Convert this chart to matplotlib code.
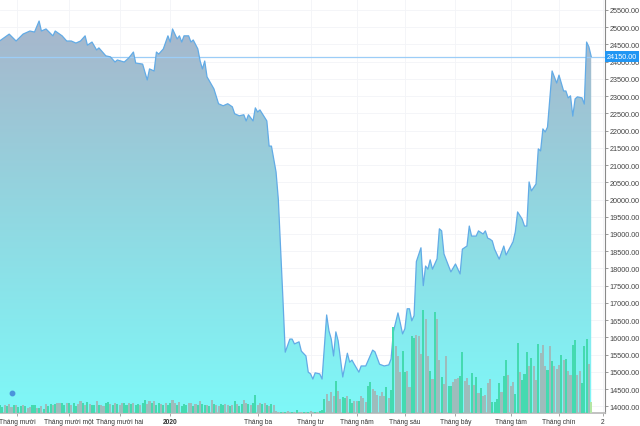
import numpy as np
import matplotlib
matplotlib.use("Agg")
import matplotlib.pyplot as plt
from matplotlib.patches import Polygon
from matplotlib.colors import LinearSegmentedColormap

# ---------------- data ----------------
price_session = [0, 4, 7, 10, 13, 15, 17, 18, 20, 23, 24, 27, 29, 31, 33, 35, 37, 38, 40, 42, 43, 46, 48, 50, 51,
                 54, 56, 58, 59, 62, 64, 65, 67, 68, 69, 71, 73, 74, 75, 77, 78, 79, 80, 82, 83, 84, 86, 87, 88,
                 89, 90, 93, 95, 97, 99, 101, 102, 104, 106, 107, 108, 110, 111, 112, 113, 116, 117, 118, 120,
                 121, 123, 124, 126, 127, 128, 130, 131, 133, 134, 135, 136, 137, 139, 140, 142, 143, 144, 145,
                 146, 147, 149, 151, 152, 153, 154, 156, 157, 159, 162, 163, 165, 167, 169, 170, 171, 173, 174,
                 175, 176, 177, 178, 179, 180, 181, 183, 184, 185, 186, 187, 188, 190, 191, 192, 193, 196, 198,
                 200, 201, 203, 204, 205, 207, 208, 210, 211, 212, 213, 214, 215, 217, 219, 220, 223, 224, 225,
                 227, 228, 229, 230, 231, 233, 234, 235, 236, 237, 238, 240, 242, 243, 245, 246, 247, 248, 249,
                 250, 251, 253, 254, 255, 256, 257]
price_value = [24610, 24800, 24600, 24800, 24890, 24860, 25180, 24890, 24950, 24750, 24890, 24750, 24600, 24600,
               24540, 24600, 24750, 24480, 24570, 24340, 24400, 24170, 24140, 23990, 24050, 23990, 24110, 24280,
               23960, 23930, 23470, 23790, 23730, 24280, 24220, 24370, 24750, 24570, 24950, 24660, 24750, 24570,
               24750, 24750, 24570, 24630, 24370, 24020, 23790, 24020, 23560, 23210, 22780, 22720, 22780, 22690,
               22490, 22430, 22460, 22280, 22460, 22280, 22660, 22540, 22600, 22280, 21550, 21550, 20800, 20000,
               17100, 15570, 15950, 15950, 15810, 15870, 15600, 15460, 14990, 14940, 14790, 14970, 14940, 14790,
               16650, 16190, 15950, 15460, 16160, 15900, 14850, 15540, 15280, 15340, 15220, 14990, 15170, 15170,
               15630, 15580, 15220, 15170, 15200, 15370, 16160, 16710, 16420, 16100, 16250, 16830, 16830, 16480,
               16630, 18200, 18600, 17500, 18070, 17980, 18250, 17980, 18280, 19150, 19090, 18420, 17900, 18130,
               17840, 18560, 18650, 19230, 18940, 18940, 19090, 19000, 19090, 18880, 18850, 18800, 18560, 18270,
               18650, 18390, 18770, 19060, 19640, 19430, 19230, 19230, 20510, 20250, 20450, 21470, 21410, 22050,
               21960, 22100, 23730, 23380, 23610, 23150, 23150, 22950, 23010, 22420, 22920, 22980, 22950, 22770,
               24570, 24430, 24150]

# daily volume (thousand shares), one per session 0..257
volume = [77, 60, 83, 67, 93, 60, 77, 77, 60, 67, 77, 67, 50, 60, 77, 83, 53, 53, 70, 43,
          88, 72, 95,
          77, 93, 103, 100, 103, 83, 103, 100, 77, 100,
          70, 93, 117, 103, 77, 110, 93, 77, 83, 117,
          77, 83, 70, 100, 110, 93,
          80, 105, 90,
          77, 100, 103, 77,
          103, 93, 100, 77, 87, 77, 103, 127, 93, 117,
          103, 120, 83, 103,
          93, 77, 103, 77, 100, 133, 103, 77, 110, 70,
          93, 77, 103, 103, 70, 93, 77, 117, 93, 77,
          83, 70, 133, 93, 77, 70, 93, 83, 93, 77,
          70, 77, 120, 93, 70, 93, 133, 103,
          90, 80, 100, 177, 77, 103, 93, 103, 77, 70, 93, 83,
          20, 10, 15, 10, 10, 20, 10, 15, 10, 30, 10, 10, 15, 10, 10, 20, 10, 15, 10, 20, 30,
          140, 190, 120, 210, 170, 320, 220, 140, 160, 150, 170, 140, 100, 120, 120, 120, 170, 150, 110, 270,
          310, 240, 220, 180, 170, 210, 170, 260, 150, 230, 860, 670, 570, 410, 620, 410, 420, 260, 770, 750,
          780, 770, 590, 1030, 940, 570, 420, 340,
          1010, 940, 530, 360, 290, 570, 270, 270, 310, 340, 350, 370, 610, 320, 350, 280, 400, 280, 360, 200,
          250, 170, 180, 300, 340, 110, 110, 140, 300, 210, 370, 530, 380, 270, 310, 190, 700, 410, 330, 390,
          610, 470, 550, 470, 330, 690, 600, 680, 470, 430, 670, 520, 470, 440, 480, 580, 530, 540, 420, 380,
          680, 730,
          380, 420, 300, 670, 740, 490, 110]
# g = up day, r = down day, l = current session
volume_dir = ("ggrgrrgrggrgrrggrgrg" "rggrgrrggr" "grggrrgrgr" "ggrgrrggrg" "rgrrggrgrg" "grggrrgrgg"
              "rgrggrrgrg" "ggrrgrgrgg" "rgrgrrggrr" "grgrggrrgr" "ggrrgrgrgr"
              "rrgrgrrgrgrrgrgrrgrgg"
              "grrrrgrrggrggrrgrrrggrrrrrrgrggrrrggrrggrrrgrrgr"
              "grrgrrggrr" "rggrrrgrgr" "grrrrggggr" "ggrrrggrgg" "grgrrgrrrg" "rgrrrgrgrr" "gg"
              "rrgggrl")

tick_sessions = [7.6, 30, 52, 74, 112, 135, 155, 176, 198, 222, 243, 262]
tick_labels = ["Tháng mười", "Tháng mười một", "Tháng mười hai", "2020", "Tháng ba", "Tháng tư",
               "Tháng năm", "Tháng sáu", "Tháng bảy", "Tháng tám", "Tháng chín", "2"]
price_ticks = list(range(14000, 25501, 500))
last_price = 24150

# ---------------- figure ----------------
plt.rcParams["font.family"] = ["Liberation Sans", "DejaVu Sans"]
W, H = 640, 427
fig = plt.figure(figsize=(W / 100, H / 100), dpi=100)
fig.patch.set_facecolor("white")
rect = [0, 13 / H, 605 / W, 414 / H]
ax = fig.add_axes(rect)
x0, x1 = 0, 263.0
y0, y1 = 13805, 25819
ax.set_xlim(x0, x1)
ax.set_ylim(y0, y1)

# grid
ax.set_axisbelow(True)
ax.grid(True, color="#f3f4f7", lw=0.6)

# gradient area
xs = np.array(price_session, dtype=float)
ys = np.array(price_value, dtype=float)
verts = [(xs[0], y0)] + list(zip(xs, ys)) + [(xs[-1], y0)]
poly = Polygon(verts, closed=True, facecolor="none", edgecolor="none")
ax.add_patch(poly)
cmap = LinearSegmentedColormap.from_list("area", ["#7ef8f8", "#92d6e0", "#aab2c9"])
grad = np.linspace(0, 1, 256).reshape(-1, 1)
im = ax.imshow(grad, extent=[x0, x1, y0, y1], origin="lower", aspect="auto", cmap=cmap, zorder=1)
im.set_clip_path(poly)
ax.plot(xs, ys, color="#62abe6", lw=0.9, zorder=3)

# last price line
ax.axhline(last_price, color="#9ccdf7", lw=0.9, zorder=2.5)
ax.text(1.003, last_price, "%.2f" % last_price, transform=ax.get_yaxis_transform(), ha="left", va="center",
        fontsize=5.2, color="white", zorder=10, clip_on=False,
        bbox=dict(boxstyle="square,pad=0.25", fc="#2196f3", ec="none"))

# event marker
ax.plot([5], [14390], marker="o", ms=3.2, color="#4b93db", zorder=4)

# axes styling
ax.yaxis.tick_right()
ax.set_yticks(price_ticks)
ax.set_yticklabels(["%.2f" % v for v in price_ticks])
ax.set_xticks(tick_sessions)
ax.set_xticklabels(tick_labels)
for lab in ax.get_xticklabels():
    if lab.get_text() == "2020":
        lab.set_fontweight("bold")
ax.tick_params(axis="y", which="both", length=2, width=0.6, color="#888888", labelsize=5.2,
               labelcolor="#444444", pad=1.5)
ax.tick_params(axis="x", length=2, width=0.6, color="#999999", labelsize=4.8, labelcolor="#333333", pad=1.5)
for s in ["top", "left"]:
    ax.spines[s].set_visible(False)
ax.spines["right"].set_color("#8a8a8a")
ax.spines["right"].set_linewidth(0.8)
ax.spines["bottom"].set_color("#b8b8b8")
ax.spines["bottom"].set_linewidth(1.2)

# volume bars on an overlay axes
axv = fig.add_axes(rect, sharex=ax)
axv.set_ylim(0, 4140)
axv.patch.set_alpha(0)
axv.axis("off")
cmap_dir = {"g": "#44dab0", "r": "#9ebcbc", "l": "#b4e6a4"}
sessions = np.arange(len(volume))
axv.bar(sessions, volume, width=0.9, color=[cmap_dir[c] for c in volume_dir], linewidth=0, zorder=2)
axv.set_xlim(x0, x1)

fig.savefig("out.png", dpi=100)
